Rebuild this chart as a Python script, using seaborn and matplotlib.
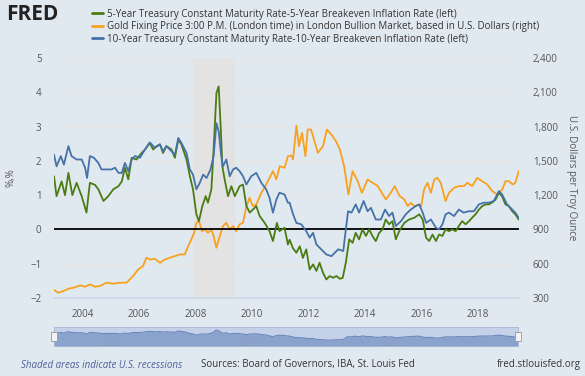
import numpy as np
import pandas as pd
import seaborn as sns
import matplotlib.pyplot as plt
from matplotlib.lines import Line2D
from matplotlib.patches import Rectangle
from matplotlib.ticker import FuncFormatter

# 5-Year real rate (left axis, %)
green_t = [2003.00, 2003.09, 2003.27, 2003.39, 2003.51, 2003.65, 2003.80, 2003.98, 2004.15, 2004.27,
           2004.45, 2004.57, 2004.75, 2004.92, 2005.10, 2005.28, 2005.40, 2005.51, 2005.63, 2005.75,
           2005.92, 2006.10, 2006.22, 2006.39, 2006.51, 2006.63, 2006.75, 2006.86, 2006.98, 2007.16,
           2007.28, 2007.40, 2007.51, 2007.69, 2007.81, 2007.92, 2008.04, 2008.13, 2008.25, 2008.37,
           2008.45, 2008.57, 2008.65, 2008.75, 2008.83, 2008.90, 2008.96, 2009.04, 2009.16, 2009.28,
           2009.40, 2009.57, 2009.69, 2009.81, 2009.93, 2010.04, 2010.16, 2010.28, 2010.46, 2010.63,
           2010.75, 2010.89, 2010.98, 2011.16, 2011.28, 2011.34, 2011.46, 2011.58, 2011.70, 2011.81,
           2011.93, 2012.05, 2012.17, 2012.29, 2012.40, 2012.52, 2012.64, 2012.76, 2012.88, 2013.00,
           2013.12, 2013.22, 2013.33, 2013.45, 2013.57, 2013.68, 2013.80, 2013.92, 2014.04, 2014.16,
           2014.27, 2014.39, 2014.51, 2014.63, 2014.74, 2014.86, 2014.98, 2015.10, 2015.22, 2015.40,
           2015.57, 2015.75, 2015.93, 2016.05, 2016.17, 2016.28, 2016.40, 2016.52, 2016.63, 2016.75,
           2016.86, 2016.98, 2017.10, 2017.22, 2017.33, 2017.45, 2017.57, 2017.69, 2017.80, 2017.92,
           2018.04, 2018.16, 2018.28, 2018.39, 2018.50, 2018.63, 2018.75, 2018.86, 2018.98, 2019.10,
           2019.22, 2019.33, 2019.45]
green_v = [1.55, 0.97, 1.40, 1.00, 1.65, 1.00, 1.36, 0.97, 0.49, 1.36,
           1.30, 1.17, 0.83, 0.97, 1.17, 1.26, 1.40, 1.80, 1.46, 2.09,
           2.04, 2.23, 2.33, 2.52, 2.33, 2.43, 2.48, 2.23, 2.43, 2.33,
           2.09, 2.62, 2.48, 2.04, 1.55, 1.17, 0.44, 0.24, 0.68, 0.97,
           0.78, 1.17, 2.33, 3.98, 4.17, 3.00, 1.84, 1.46, 0.97, 1.26,
           0.97, 1.26, 1.31, 0.68, 0.49, 0.58, 0.68, 0.39, 0.19, -0.05,
           -0.34, 0.19, -0.05, 0.05, -0.44, -0.30, -0.55, -0.68, -0.49, -0.83,
           -0.58, -1.17, -1.02, -1.21, -0.97, -1.26, -1.46, -1.36, -1.41, -1.36,
           -1.44, -1.41, -0.97, -0.29, -0.39, -0.10, -0.29, 0.00, -0.19, 0.00,
           -0.19, -0.34, -0.10, 0.00, 0.29, 0.15, 0.24, -0.29, -0.05, 0.19,
           0.29, 0.34, 0.44, 0.29, -0.24, -0.34, -0.15, -0.34, -0.15, -0.19,
           0.00, -0.05, 0.00, -0.05, 0.10, 0.24, 0.15, 0.24, 0.34, 0.44,
           0.58, 0.68, 0.73, 0.73, 0.78, 0.87, 1.07, 0.97, 0.73, 0.68,
           0.53, 0.44, 0.29]

# 10-Year real rate (left axis, %)
blue_t = [2003.00, 2003.09, 2003.24, 2003.35, 2003.51, 2003.62, 2003.80, 2003.98, 2004.10, 2004.17,
          2004.27, 2004.41, 2004.57, 2004.68, 2004.86, 2005.04, 2005.16, 2005.28, 2005.40, 2005.51,
          2005.63, 2005.75, 2005.87, 2006.04, 2006.22, 2006.39, 2006.57, 2006.75, 2006.86, 2006.98,
          2007.16, 2007.28, 2007.40, 2007.51, 2007.69, 2007.81, 2007.92, 2008.04, 2008.16, 2008.28,
          2008.40, 2008.54, 2008.65, 2008.75, 2008.83, 2008.92, 2008.98, 2009.10, 2009.22, 2009.34,
          2009.45, 2009.57, 2009.69, 2009.81, 2009.98, 2010.16, 2010.34, 2010.51, 2010.63, 2010.75,
          2010.87, 2010.98, 2011.16, 2011.28, 2011.34, 2011.46, 2011.58, 2011.75, 2011.93, 2012.05,
          2012.17, 2012.29, 2012.46, 2012.64, 2012.82, 2012.94, 2013.06, 2013.24, 2013.33, 2013.41,
          2013.53, 2013.68, 2013.80, 2013.96, 2014.10, 2014.22, 2014.39, 2014.57, 2014.72, 2014.86,
          2014.98, 2015.10, 2015.28, 2015.45, 2015.63, 2015.80, 2015.93, 2016.05, 2016.17, 2016.34,
          2016.52, 2016.63, 2016.75, 2016.86, 2016.98, 2017.16, 2017.33, 2017.50, 2017.68, 2017.86,
          2018.04, 2018.22, 2018.40, 2018.57, 2018.75, 2018.86, 2019.04, 2019.22, 2019.33, 2019.45]
blue_v = [2.18, 1.84, 2.14, 1.89, 2.43, 2.14, 2.04, 2.04, 1.80, 1.50,
          2.14, 2.09, 1.94, 1.75, 1.75, 1.75, 1.80, 1.65, 1.65, 1.94,
          1.70, 2.04, 2.14, 2.09, 2.33, 2.54, 2.38, 2.48, 2.28, 2.43,
          2.28, 2.18, 2.67, 2.52, 2.23, 1.75, 1.60, 1.17, 1.36, 1.60,
          1.50, 1.75, 2.14, 3.10, 2.86, 2.14, 1.84, 2.04, 1.55, 1.75,
          1.80, 1.70, 1.55, 1.31, 1.55, 1.65, 1.36, 1.17, 0.92, 0.49,
          0.87, 1.07, 1.02, 0.78, 0.78, 0.45, 0.19, 0.15, -0.05, -0.24,
          -0.10, -0.44, -0.58, -0.73, -0.78, -0.68, -0.58, -0.63, 0.00, 0.53,
          0.49, 0.73, 0.49, 0.83, 0.53, 0.63, 0.29, 0.29, 0.58, 0.39,
          0.49, 0.10, 0.24, 0.44, 0.58, 0.68, 0.73, 0.49, 0.19, 0.29,
          0.05, 0.00, 0.15, 0.44, 0.49, 0.39, 0.58, 0.49, 0.53, 0.53,
          0.73, 0.78, 0.78, 0.83, 1.12, 1.02, 0.73, 0.58, 0.49, 0.34]

# Gold fixing price (right axis, USD)
gold_t = [2003.00, 2003.15, 2003.33, 2003.51, 2003.69, 2003.92, 2004.10, 2004.27, 2004.45, 2004.63,
          2004.86, 2005.10, 2005.33, 2005.57, 2005.80, 2005.98, 2006.15, 2006.27, 2006.40, 2006.57,
          2006.75, 2006.92, 2007.10, 2007.27, 2007.45, 2007.63, 2007.75, 2007.86, 2007.96, 2008.04,
          2008.13, 2008.24, 2008.34, 2008.45, 2008.57, 2008.65, 2008.75, 2008.87, 2008.98, 2009.10,
          2009.22, 2009.34, 2009.45, 2009.57, 2009.69, 2009.80, 2009.92, 2010.04, 2010.16, 2010.34,
          2010.51, 2010.63, 2010.75, 2010.87, 2010.99, 2011.16, 2011.28, 2011.40, 2011.46, 2011.58,
          2011.67, 2011.78, 2011.90, 2011.98, 2012.10, 2012.22, 2012.34, 2012.52, 2012.66, 2012.82,
          2012.98, 2013.12, 2013.27, 2013.42, 2013.57, 2013.75, 2013.90, 2014.10, 2014.28, 2014.46,
          2014.75, 2014.92, 2015.06, 2015.24, 2015.40, 2015.52, 2015.63, 2015.75, 2015.93, 2016.00,
          2016.10, 2016.22, 2016.34, 2016.46, 2016.57, 2016.69, 2016.86, 2016.98, 2017.16, 2017.33,
          2017.51, 2017.63, 2017.80, 2017.98, 2018.16, 2018.34, 2018.51, 2018.69, 2018.87, 2018.98,
          2019.10, 2019.24, 2019.33, 2019.45]
gold_v = [370, 346, 360, 381, 390, 410, 399, 419, 399, 405,
          434, 425, 434, 434, 492, 550, 579, 652, 637, 643,
          608, 637, 652, 666, 681, 681, 754, 812, 871, 958,
          973, 885, 900, 871, 900, 842, 740, 842, 929, 958,
          900, 929, 885, 944, 958, 1089, 1177, 1104, 1118, 1220,
          1293, 1351, 1410, 1337, 1453, 1439, 1541, 1547, 1512, 1809,
          1628, 1745, 1541, 1774, 1774, 1672, 1570, 1628, 1774, 1730,
          1672, 1599, 1453, 1206, 1410, 1322, 1220, 1337, 1308, 1279,
          1162, 1220, 1279, 1191, 1162, 1104, 1133, 1104, 1118, 1104,
          1250, 1308, 1220, 1337, 1351, 1308, 1148, 1220, 1264, 1279,
          1279, 1308, 1279, 1351, 1322, 1293, 1235, 1206, 1250, 1322,
          1322, 1293, 1308, 1410]

labels = ["5-Year Treasury Constant Maturity Rate-5-Year Breakeven Inflation Rate (left)",
          "Gold Fixing Price 3:00 P.M. (London time) in London Bullion Market, based in U.S. Dollars (right)",
          "10-Year Treasury Constant Maturity Rate-10-Year Breakeven Inflation Rate (left)"]
year_ticks = [2004, 2006, 2008, 2010, 2012, 2014, 2016, 2018]
recession = (2007.92, 2009.42)

GREEN = "#4a7c12"
ORANGE = "#f9a11f"
BLUE = "#4572a7"
BG = "#e1e9f0"
TXT = "#555555"

sns.set_theme(style="white")
plt.rcParams['font.family'] = ['Open Sans', 'DejaVu Sans']

W, H = 585, 376
fig = plt.figure(figsize=(W / 100, H / 100), dpi=100, facecolor=BG)

ax = fig.add_axes([54 / W, 1 - 298 / H, 465 / W, 240 / H])
ax2 = ax.twinx()

# ax2 (gold, right axis) sits underneath: white background, grid, recession band
ax2.set_facecolor("white")
ax2.yaxis.grid(True, color="#e6e6e6", lw=1)
ax2.set_axisbelow(True)
ax2.axvspan(*recession, color="#e3e3e3", zorder=1, lw=0)
sns.lineplot(x=gold_t, y=gold_v, ax=ax2, color=ORANGE, lw=1.3, zorder=2)

ax.set_zorder(ax2.get_zorder() + 1)
ax.patch.set_visible(False)
ax.axhline(0, color="black", lw=1.3, zorder=1)
sns.lineplot(x=green_t, y=green_v, ax=ax, color=GREEN, lw=1.3, zorder=3)
sns.lineplot(x=blue_t, y=blue_v, ax=ax, color=BLUE, lw=1.3, zorder=4)

xlim = (2003.0, 2019.46)
ax.set_xlim(*xlim)
ax.set_ylim(-2, 5)
ax2.set_ylim(300, 2400)
ax.set_yticks(range(-2, 6))
ax2.set_yticks(range(300, 2401, 300))
ax2.yaxis.set_major_formatter(FuncFormatter(lambda v, p: f"{int(v):,}"))
ax.set_xticks(year_ticks)
ax.set_xticklabels([str(y) for y in year_ticks])

for a in (ax, ax2):
    for s in a.spines.values():
        s.set_visible(False)
ax.tick_params(axis="y", length=0, pad=9, labelsize=7, labelcolor=TXT)
ax2.tick_params(axis="y", length=0, pad=10, labelsize=7, labelcolor=TXT)
ax.tick_params(axis="x", length=4, width=0.8, color="#ccd6eb", pad=4, labelsize=7, labelcolor=TXT, direction="out")
ax.spines["bottom"].set_visible(True)
ax.spines["bottom"].set_color("#ccd6eb")

ax.set_xlabel("")
ax.set_ylabel("%,%", fontsize=7, color=TXT, labelpad=10)
ax2.set_ylabel("U.S. Dollars per Troy Ounce", fontsize=7, color=TXT, rotation=270, labelpad=14)

# legend
handles = [Line2D([], [], color=c, lw=2) for c in (GREEN, ORANGE, BLUE)]
fig.legend(handles, labels, loc="upper left", bbox_to_anchor=(88 / W, 1 - 5 / H), frameon=False,
           fontsize=7, handlelength=1.1, handletextpad=0.5, labelspacing=0.15, borderaxespad=0,
           labelcolor="#333333")

fig.text(6 / W, 1 - 14 / H, "FRED", fontsize=15, fontweight="bold", color="#222222", va="center")

# range navigator
nav = fig.add_axes([54 / W, 1 - 346 / H, 464 / W, 19 / H])
nav.set_facecolor("#c5d1e8")
nav.fill_between(blue_t, blue_v, -5, color="#8aa3cd", lw=0)
sns.lineplot(x=blue_t, y=blue_v, ax=nav, color="#6a88bd", lw=0.8)
nav.set_xlim(*xlim)
nav.set_ylim(-3.0, 4.2)
nav.set_xticks([])
nav.set_yticks([])
nav.set_xlabel("")
for s in nav.spines.values():
    s.set_color("#a9b9d6")
    s.set_linewidth(0.6)
for yr in (2005, 2010, 2015):
    nav.text(yr, -1.9, str(yr), fontsize=7, color="#8f9fbf", ha="center", va="center", zorder=4)
for xe in xlim:
    nav.add_patch(Rectangle((xe - 0.1, -1.2), 0.2, 3.6, facecolor="#f2f2f2", edgecolor="#999999",
                            lw=0.6, zorder=5, clip_on=False))

fig.text(21 / W, 1 - 365 / H, "Shaded areas indicate U.S. recessions", fontsize=7, style="italic",
         color="#4f5f99", va="center")
fig.text(201 / W, 1 - 365 / H, "Sources: Board of Governors, IBA, St. Louis Fed", fontsize=7,
         color="#333333", va="center")
fig.text(581 / W, 1 - 365 / H, "fred.stlouisfed.org", fontsize=7, color="#333333", va="center", ha="right")

fig.savefig("out.png", dpi=100, facecolor=BG)
